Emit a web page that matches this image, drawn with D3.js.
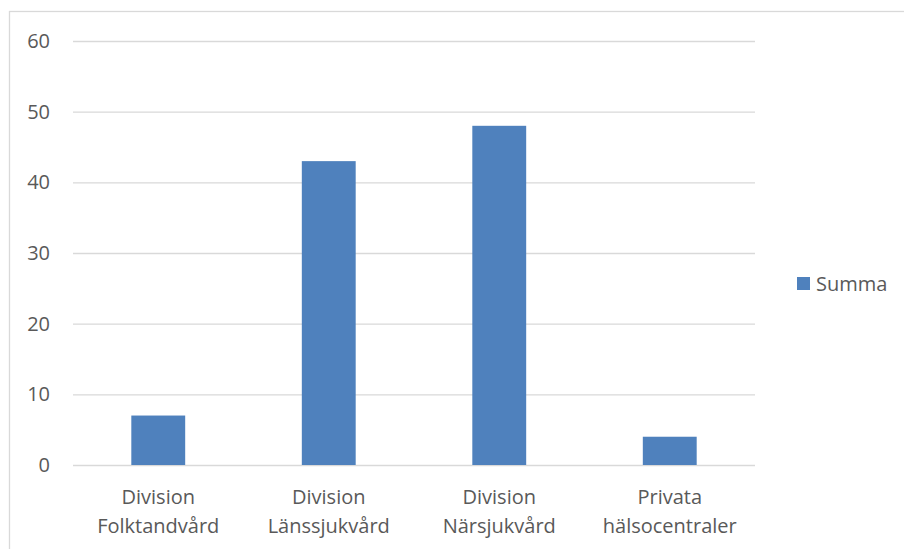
<!DOCTYPE html>
<html>
<head>
<meta charset="utf-8">
<script src="https://cdn.jsdelivr.net/npm/d3@7"></script>
<style>
  body { margin: 0; background: #fff; }
  svg text { font-family: "Open Sans", "Noto Sans", sans-serif; fill: #595959; font-size: 20px; }
</style>
</head>
<body>
<div id="chart"></div>
<script>
// chart data
const categories = [["Division", "Folktandvård"], ["Division", "Länssjukvård"], ["Division", "Närsjukvård"], ["Privata", "hälsocentraler"]];
const values = [7, 43, 48, 4];
const yTicks = [0, 10, 20, 30, 40, 50, 60];
const seriesName = "Summa";

const W = 904, H = 549;
const barColor = "#4f81bd";
const gridColor = "#d9d9d9";
const m = {t: 41, r: 149, b: 84, l: 73};
const w = W - m.l - m.r, h = H - m.t - m.b;

const svg = d3.select("#chart").append("svg")
    .attr("width", W).attr("height", H);

// outer chart border (only top and left show in the frame)
svg.append("rect")
    .attr("x", 9.5).attr("y", 11.5)
    .attr("width", W + 20).attr("height", H + 20)
    .attr("fill", "none").attr("stroke", gridColor).attr("stroke-width", 1.3);

const g = svg.append("g").attr("transform", "translate(" + m.l + "," + m.t + ")");

const x = d3.scaleBand().domain(categories.map(function(d, i){ return i; }))
    .range([0, w]).paddingInner(0.684).paddingOuter(0.342);
const y = d3.scaleLinear().domain([0, 60]).range([h, 0]);

// gridlines + y labels
const yAxis = d3.axisLeft(y).tickValues(yTicks).tickSize(-w).tickPadding(23);
g.append("g").attr("class", "y axis").call(yAxis)
    .attr("font-size", null).attr("font-family", null)
    .call(function(a){ a.select(".domain").remove(); })
    .call(function(a){ a.selectAll(".tick line").attr("stroke", gridColor).attr("stroke-width", 1.3); })
    .call(function(a){ a.selectAll(".tick text").attr("fill", null); });

// bars
g.selectAll(".bar").data(values).enter().append("rect")
    .attr("class", "bar")
    .attr("x", function(d, i){ return x(i); })
    .attr("y", function(d){ return y(d); })
    .attr("width", x.bandwidth())
    .attr("height", function(d){ return h - y(d); })
    .attr("fill", barColor);

// category labels (two lines)
const labels = g.selectAll(".cat").data(categories).enter().append("text")
    .attr("class", "cat")
    .attr("text-anchor", "middle")
    .attr("transform", function(d, i){ return "translate(" + (x(i) + x.bandwidth() / 2) + "," + (h + 39) + ")"; });
labels.selectAll("tspan").data(function(d){ return d; }).enter().append("tspan")
    .attr("x", 0).attr("dy", function(d, j){ return j === 0 ? 0 : 29; })
    .text(function(d){ return d; });

// legend
const leg = svg.append("g").attr("transform", "translate(797,277)");
leg.append("rect").attr("width", 13).attr("height", 13).attr("fill", barColor);
leg.append("text").attr("x", 19).attr("y", 13.5).text(seriesName);
</script>
</body>
</html>
